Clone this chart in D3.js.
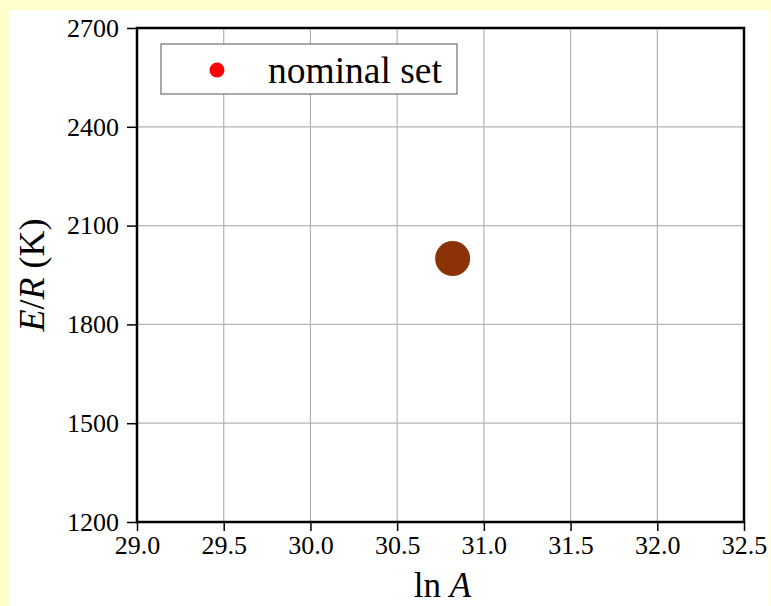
<!DOCTYPE html>
<html lang="en">
<head>
    <meta charset="UTF-8">
    <title>E/R vs ln A</title>
    <script src="https://cdn.jsdelivr.net/npm/d3@7"></script>
    <style>
        body { margin: 0; background: #ffffcc; }
        svg { display: block; }
        text { font-family: "Liberation Serif", "Times New Roman", serif; fill: #000; }
    </style>
</head>
<body>
<script>

    var width = 771;
    var height = 606;

    // data
    var lnA = [30.82];
    var ER = [2000];
    var seriesName = "nominal set";
    var xTicks = [29.0, 29.5, 30.0, 30.5, 31.0, 31.5, 32.0, 32.5];
    var yTicks = [1200, 1500, 1800, 2100, 2400, 2700];

    var margin = {top: 28, right: 27, bottom: 84, left: 137};
    var w = width - margin.left - margin.right;
    var h = height - margin.top - margin.bottom;

    var svg = d3.select('body')
        .append('svg')
        .attr('width', width)
        .attr('height', height);

    // white page area, yellow shows at the top and right edge
    svg.append('rect')
        .attr('x', 9).attr('y', 10)
        .attr('width', 761).attr('height', height - 10)
        .attr('fill', '#fff');

    var x = d3.scaleLinear().domain([29, 32.5]).range([0, w]);
    var y = d3.scaleLinear().domain([1200, 2700]).range([h, 0]);

    var g = svg.append('g')
        .attr('transform', 'translate(' + margin.left + ',' + margin.top + ')');

    // grid
    g.append('g').selectAll('line')
        .data(xTicks.slice(1, -1))
        .enter().append('line')
        .attr('x1', function (d) { return x(d); })
        .attr('x2', function (d) { return x(d); })
        .attr('y1', 0).attr('y2', h)
        .attr('stroke', '#b4b4b4').attr('stroke-width', 1.2);

    g.append('g').selectAll('line')
        .data(yTicks.slice(1, -1))
        .enter().append('line')
        .attr('y1', function (d) { return y(d); })
        .attr('y2', function (d) { return y(d); })
        .attr('x1', 0).attr('x2', w)
        .attr('stroke', '#b4b4b4').attr('stroke-width', 1.2);

    // axes
    var xAxis = d3.axisBottom(x)
        .tickValues(xTicks)
        .tickFormat(d3.format('.1f'))
        .tickSize(9)
        .tickPadding(5);

    var yAxis = d3.axisLeft(y)
        .tickValues(yTicks)
        .tickFormat(d3.format('d'))
        .tickSize(10)
        .tickPadding(8);

    var gx = g.append('g')
        .attr('transform', 'translate(0,' + h + ')')
        .call(xAxis);
    var gy = g.append('g').call(yAxis);

    [gx, gy].forEach(function (a) {
        a.select('.domain').remove();
        a.selectAll('line').attr('stroke', '#000').attr('stroke-width', 1.5);
        a.selectAll('text')
            .attr('font-family', '"Liberation Serif", "Times New Roman", serif')
            .attr('font-size', 26)
            .attr('fill', '#000');
    });

    // frame
    g.append('rect')
        .attr('x', 0).attr('y', 0)
        .attr('width', w).attr('height', h)
        .attr('fill', 'none')
        .attr('stroke', '#000')
        .attr('stroke-width', 2.5);

    // point
    g.selectAll('circle.pt')
        .data(lnA)
        .enter().append('circle')
        .attr('class', 'pt')
        .attr('cx', function (d) { return x(d); })
        .attr('cy', function (d, i) { return y(ER[i]); })
        .attr('r', 17.5)
        .attr('fill', '#8b3306');

    // legend
    var leg = g.append('g').attr('transform', 'translate(24,16)');
    leg.append('rect')
        .attr('width', 296).attr('height', 50)
        .attr('fill', '#fff')
        .attr('stroke', '#555').attr('stroke-width', 1);
    leg.append('circle')
        .attr('cx', 56).attr('cy', 26).attr('r', 7.5)
        .attr('fill', '#ff0000');
    leg.append('text')
        .attr('x', 107).attr('y', 39)
        .attr('font-size', 37.5)
        .text(seriesName);

    // axis titles
    var xt = svg.append('text')
        .attr('x', margin.left + w / 2 + 2)
        .attr('y', 597)
        .attr('text-anchor', 'middle')
        .attr('font-size', 35);
    xt.append('tspan').text('ln ');
    xt.append('tspan').attr('font-style', 'italic').text('A');

    var yt = svg.append('text')
        .attr('transform', 'translate(44,' + (margin.top + h / 2) + ') rotate(-90)')
        .attr('text-anchor', 'middle')
        .attr('font-size', 36);
    yt.append('tspan').attr('font-style', 'italic').text('E');
    yt.append('tspan').text('/');
    yt.append('tspan').attr('font-style', 'italic').text('R');
    yt.append('tspan').text(' (K)');

</script>
</body>
</html>
